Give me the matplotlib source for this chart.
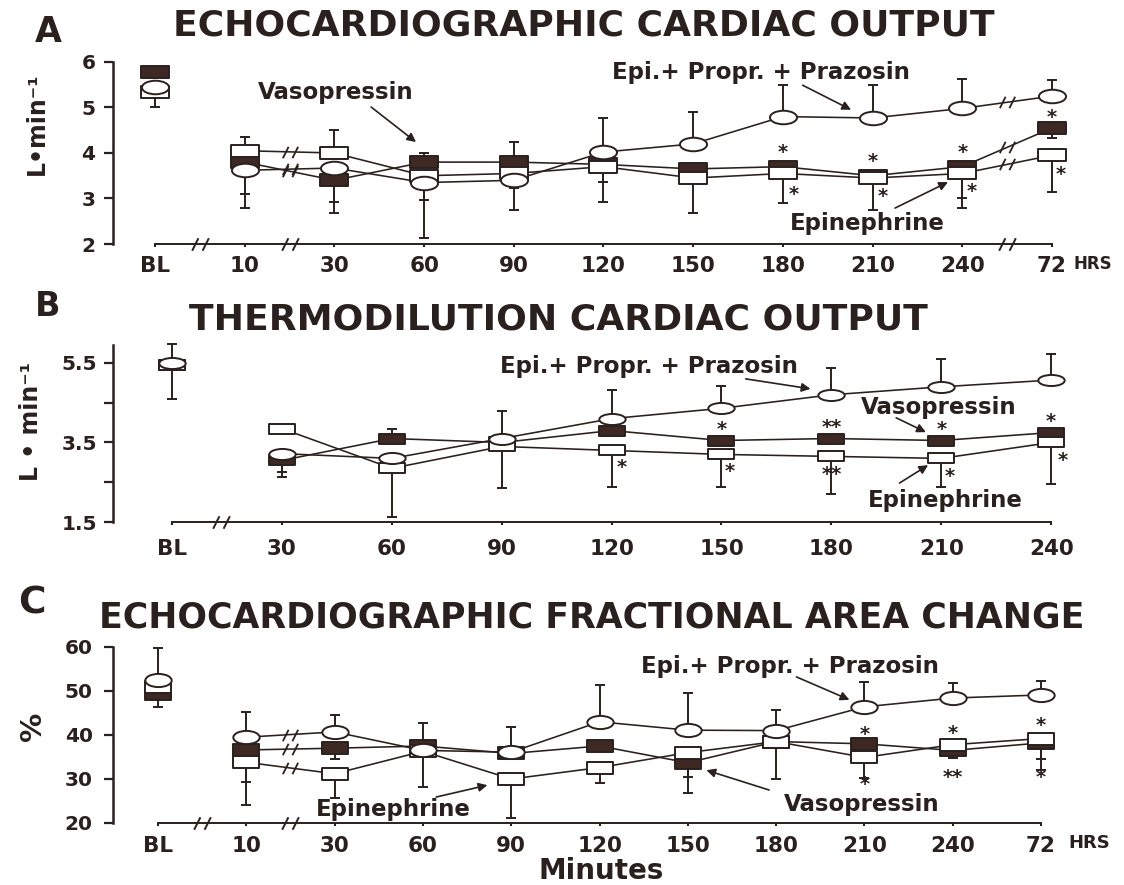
import numpy as np
import matplotlib
matplotlib.use("Agg")
import matplotlib.pyplot as plt
from matplotlib.path import Path
from matplotlib.transforms import Affine2D

plt.rcParams['font.family'] = ['DejaVu Sans']
plt.rcParams['font.weight'] = 'bold'

INK = '#2a201d'
DARK = '#3e2823'
nan = np.nan

# ---------------- Panel A: echocardiographic cardiac output (L/min) ----------------
a_labels = ["BL", "10", "30", "60", "90", "120", "150", "180", "210", "240", "72"]
a_epi = [5.35, 4.05, 4.0, 3.5, 3.55, 3.7, 3.45, 3.55, 3.45, 3.55, 3.95]
a_vaso = [5.78, 3.8, 3.4, 3.8, 3.8, 3.75, 3.65, 3.7, 3.5, 3.7, 4.55]
a_epp = [5.45, 3.62, 3.67, 3.35, 3.4, 4.02, 4.2, 4.8, 4.77, 4.98, 5.25]
a_epi_lo = [5.0, nan, nan, 2.97, 3.22, 2.93, 2.68, 2.9, 2.75, 2.79, 3.15]
a_epi_hi = [nan, 4.35, 4.5, nan, nan, nan, nan, nan, nan, nan, nan]
a_vaso_lo = [nan, 3.1, 2.93, nan, nan, 3.37, nan, nan, nan, 3.0, 4.33]
a_vaso_hi = [nan, nan, nan, 4.0, 4.25, nan, nan, nan, nan, nan, nan]
a_epp_lo = [nan, 2.8, 2.68, 2.13, 2.75, nan, nan, nan, nan, nan, nan]
a_epp_hi = [nan, nan, nan, nan, nan, 4.77, 4.9, 5.5, 5.5, 5.63, 5.6]
a_stars = [(7, 4.11, "*", 0), (7, 3.19, "*", 8), (8, 3.91, "*", 0), (8, 3.14, "*", 7),
           (9, 4.11, "*", 0), (9, 3.25, "*", 7), (10, 4.88, "*", 0), (10, 3.63, "*", 6)]

# ---------------- Panel B: thermodilution cardiac output (L/min) ----------------
b_labels = ["BL", "30", "60", "90", "120", "150", "180", "210", "240"]
b_epi = [5.45, 3.85, 2.85, 3.4, 3.3, 3.2, 3.15, 3.1, 3.5]
b_vaso = [5.45, 3.05, 3.6, 3.5, 3.8, 3.55, 3.6, 3.55, 3.75]
b_epp = [5.5, 3.22, 3.1, 3.6, 4.1, 4.36, 4.7, 4.9, 5.07]
b_epi_lo = [4.6, nan, 1.63, 2.36, 2.38, 2.38, 2.2, 2.38, 2.46]
b_epi_hi = [nan] * 9
b_vaso_lo = [nan, 2.75, nan, nan, nan, nan, nan, nan, nan]
b_vaso_hi = [nan, nan, 3.85, nan, nan, nan, nan, nan, nan]
b_epp_lo = [nan, 2.64, nan, nan, nan, nan, nan, nan, nan]
b_epp_hi = [5.98, nan, nan, 4.28, 4.82, 4.92, 5.37, 5.6, 5.73]
b_stars = [(4, 2.98, "*", 7), (5, 3.94, "*", 0), (5, 2.88, "*", 6), (6, 3.99, "**", 0),
           (6, 2.81, "**", 0), (7, 3.92, "*", 0), (7, 2.76, "*", 6), (8, 4.14, "*", 0),
           (8, 3.16, "*", 8)]

# ---------------- Panel C: echocardiographic fractional area change (%) ----------------
c_labels = ["BL", "10", "30", "60", "90", "120", "150", "180", "210", "240", "72"]
c_epi = [51.0, 33.8, 31.2, 36.3, 30.0, 32.6, 36.0, 38.5, 34.9, 37.8, 39.2]
c_vaso = [49.3, 36.6, 37.0, 37.5, 35.8, 37.5, 33.7, 38.5, 38.0, 36.5, 38.2]
c_epp = [52.5, 39.5, 40.7, 36.5, 36.1, 43.0, 41.1, 41.0, 46.4, 48.4, 49.1]
c_epi_lo = [46.4, 24.1, 25.7, 28.2, 21.1, 29.1, 30.5, 30.0, 30.2, nan, 32.0]
c_epi_hi = [nan] * 11
c_vaso_lo = [nan, 29.3, 34.5, nan, nan, nan, 26.8, nan, nan, 34.8, 34.5]
c_vaso_hi = [nan] * 11
c_epp_lo = [nan] * 11
c_epp_hi = [59.8, 45.2, 44.5, 42.7, 41.8, 51.4, 49.5, 45.7, 52.0, 51.8, 52.3]
c_stars = [(8, 41.1, "*", 0), (8, 29.8, "*", 0), (9, 41.4, "*", 0), (9, 31.4, "**", 0),
           (10, 43.0, "*", 0), (10, 31.4, "*", 0)]

# ---------------- marker shapes ----------------
def rect_marker(aspect):
    return Path([(-1, -aspect), (1, -aspect), (1, aspect), (-1, aspect), (-1, -aspect)],
                [Path.MOVETO, Path.LINETO, Path.LINETO, Path.LINETO, Path.CLOSEPOLY])

def ellipse_marker(aspect):
    return Path.unit_circle().transformed(Affine2D().scale(1, aspect))

BREAK = Path([(-1, -0.75), (-0.25, 0.75), (0.25, -0.75), (1, 0.75)],
             [Path.MOVETO, Path.LINETO, Path.MOVETO, Path.LINETO])

W, H = 1124, 885
fig = plt.figure(figsize=(W / 100, H / 100), dpi=100)


def px_rect(left, top, right, bottom):
    return [left / W, 1 - bottom / H, (right - left) / W, (bottom - top) / H]


def ftext(x, y, s, **kw):
    kw.setdefault('ha', 'center')
    kw.setdefault('va', 'center')
    kw.setdefault('color', INK)
    kw.setdefault('fontweight', 'bold')
    fig.text(x / W, 1 - y / H, s, **kw)


def whisker(ax, x, mean, end, cap=7):
    mean = np.asarray(mean, float)
    end = np.asarray(end, float)
    m = ~np.isnan(end)
    ax.vlines(x[m], mean[m], end[m], color=INK, lw=1.4, zorder=1.5)
    ax.plot(x[m], end[m], ls='none', marker='_', ms=cap, mew=1.4, color=INK, zorder=1.5,
            clip_on=False)


def draw_panel(ax, n, epi, vaso, epp, whiskers, first_joined, aspect_box, aspect_ell,
               msize, breaks_on_lines):
    x = np.arange(n, dtype=float)
    for mean, (lo, hi) in zip((epi, vaso, epp), whiskers):
        whisker(ax, x, mean, lo)
        whisker(ax, x, mean, hi)
    for mean in (epi, vaso, epp):
        ax.plot(x[first_joined:], np.asarray(mean)[first_joined:], color=INK, lw=1.15, zorder=2)
        for b in breaks_on_lines:
            i = int(b)
            yb = 0.5 * (mean[i] + mean[i + 1])
            ax.plot([b], [yb], ls='none', marker=BREAK, ms=11, mew=1.3, mfc='none',
                    mec=INK, zorder=2.5)
    ax.plot(x, vaso, ls='none', marker=rect_marker(aspect_box), ms=msize, mfc=DARK,
            mec=INK, mew=1.4, zorder=3, clip_on=False)
    ax.plot(x, epi, ls='none', marker=rect_marker(aspect_box), ms=msize, mfc='white',
            mec=INK, mew=1.4, zorder=4, clip_on=False)
    ax.plot(x, epp, ls='none', marker=ellipse_marker(aspect_ell), ms=msize, mfc='white',
            mec=INK, mew=1.4, zorder=5, clip_on=False)


def style_axes(ax, xlim, ylim, ybounds, yticks, yticklabels, n, xlabels, xpad, ypad,
               axis_breaks, ydummy):
    ax.set_xlim(*xlim)
    ax.set_ylim(*ylim)
    ax.patch.set_alpha(0)
    for s in ('top', 'right'):
        ax.spines[s].set_visible(False)
    ax.spines['left'].set_bounds(*ybounds)
    ax.spines['left'].set_linewidth(1.8)
    ax.spines['left'].set_color(INK)
    ax.spines['bottom'].set_bounds(0, n - 1)
    ax.spines['bottom'].set_linewidth(1.4)
    ax.spines['bottom'].set_color(INK)
    ax.set_yticks(yticks, yticklabels)
    ax.set_xticks(np.arange(n), xlabels)
    ax.tick_params(axis='y', length=6.5, width=1.6, pad=ypad, labelsize=14.5, colors=INK)
    ax.tick_params(axis='x', length=2.5, width=1.5, pad=xpad, labelsize=15.5, colors=INK)
    for lab in ax.get_xticklabels() + ax.get_yticklabels():
        lab.set_fontweight('bold')
    ax.plot(axis_breaks, [ydummy] * len(axis_breaks), ls='none', marker=BREAK, ms=12,
            mew=1.4, mfc='none', mec=INK, zorder=6, clip_on=False)


def stars(ax, items):
    for xi, yv, s, dx in items:
        ax.annotate(s, xy=(xi, yv), xytext=(dx, -3), textcoords='offset points',
                    ha='center', va='center', fontsize=14, fontweight='bold', color=INK,
                    zorder=7, annotation_clip=False)


def label_arrow(ax, text, txy, tail, head, fs=16.5):
    ax.text(txy[0], txy[1], text, ha='center', va='center', fontsize=fs, fontweight='bold',
            color=INK, zorder=8)
    ax.annotate('', xy=head, xytext=tail,
                arrowprops=dict(arrowstyle='-|>', color=INK, lw=1.2, mutation_scale=13,
                                shrinkA=0, shrinkB=0), zorder=8, annotation_clip=False)


# ---------------- Panel A ----------------
axA = fig.add_axes(px_rect(112.8, 62, 1123.8, 244))
draw_panel(axA, 11, a_epi, a_vaso, a_epp,
           [(a_epi_lo, a_epi_hi), (a_vaso_lo, a_vaso_hi), (a_epp_lo, a_epp_hi)],
           1, 0.48, 0.5, 19.5, [1.5, 9.5])
style_axes(axA, (-0.47, 10.8), (2, 6), (2, 6), [2, 3, 4, 5, 6], ["2", "3", "4", "5", "6"],
           11, a_labels, 6, 6, [0.5, 1.5, 9.5], 2)
stars(axA, a_stars)
label_arrow(axA, "Vasopressin", (2.02, 5.32), (2.41, 5.01), (2.91, 4.24))
label_arrow(axA, "Epi.+ Propr. + Prazosin", (6.76, 5.78), (7.22, 5.49), (7.76, 4.95))
label_arrow(axA, "Epinephrine", (7.94, 2.44), (8.25, 2.79), (8.84, 3.36))

# ---------------- Panel B ----------------
axB = fig.add_axes(px_rect(112.7, 343.1, 1117.1, 522))
draw_panel(axB, 9, b_epi, b_vaso, b_epp,
           [(b_epi_lo, b_epi_hi), (b_vaso_lo, b_vaso_hi), (b_epp_lo, b_epp_hi)],
           1, 0.4, 0.42, 19, [])
style_axes(axB, (-0.54, 8.6), (1.5, 6.0), (1.5, 5.95), [1.5, 3.5, 5.5], ["1.5", "3.5", "5.5"],
           9, b_labels, 10, 5, [0.45], 1.5)
axB.set_yticks([2.5, 4.5], minor=True)
axB.tick_params(axis='y', which='minor', length=6.5, width=1.6, colors=INK)
stars(axB, b_stars)
label_arrow(axB, "Epi.+ Propr. + Prazosin", (4.34, 5.40), (5.22, 5.10), (5.81, 4.85))
label_arrow(axB, "Vasopressin", (6.98, 4.37), (6.59, 4.12), (6.86, 3.76))
label_arrow(axB, "Epinephrine", (7.04, 2.05), (6.62, 2.48), (6.88, 2.93))

# ---------------- Panel C ----------------
axC = fig.add_axes(px_rect(113.0, 647, 1120.5, 823))
draw_panel(axC, 11, c_epi, c_vaso, c_epp,
           [(c_epi_lo, c_epi_hi), (c_vaso_lo, c_vaso_hi), (c_epp_lo, c_epp_hi)],
           1, 0.46, 0.5, 19, [1.5])
style_axes(axC, (-0.51, 10.9), (20, 60), (20, 60), [20, 30, 40, 50, 60],
           ["20", "30", "40", "50", "60"], 11, c_labels, 7, 8, [0.5, 1.5], 20)
stars(axC, c_stars)
label_arrow(axC, "Epi.+ Propr. + Prazosin", (7.16, 55.5), (7.23, 53.2), (7.83, 48.0))
label_arrow(axC, "Vasopressin", (7.97, 24.1), (6.92, 27.5), (6.21, 32.0))
label_arrow(axC, "Epinephrine", (2.66, 23.0), (3.15, 25.9), (3.73, 28.6))

# ---------------- titles, panel letters, axis labels ----------------
ftext(48, 32, "A", fontsize=25)
ftext(584, 25, "ECHOCARDIOGRAPHIC CARDIAC OUTPUT", fontsize=26)
ftext(48, 306, "B", fontsize=24)
ftext(558, 320, "THERMODILUTION CARDIAC OUTPUT", fontsize=26)
ftext(32, 604, "C", fontsize=27)
ftext(592, 617, "ECHOCARDIOGRAPHIC FRACTIONAL AREA CHANGE", fontsize=25)

ftext(37, 124, "L\u2022min\u207b\u00b9", fontsize=17, rotation=90)
ftext(31, 421, "L \u2022 min\u207b\u00b9", fontsize=17, rotation=90)
ftext(33, 726, "%", fontsize=21, rotation=90)

ftext(1093, 264, "HRS", fontsize=12)
ftext(1089, 843, "HRS", fontsize=13)
ftext(601, 871, "Minutes", fontsize=20)

fig.savefig("out.png", dpi=100, facecolor='white')
